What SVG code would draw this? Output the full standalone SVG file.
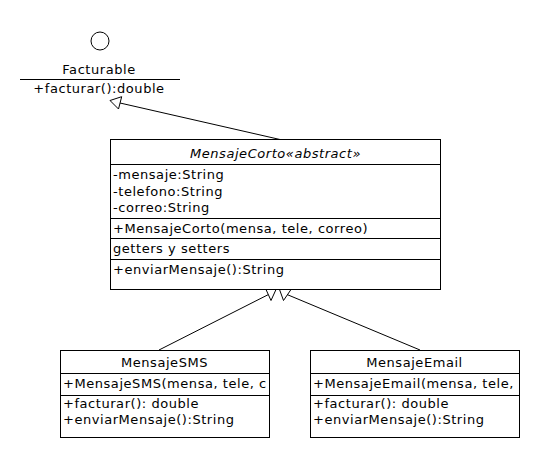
<svg xmlns="http://www.w3.org/2000/svg" width="540" height="460" viewBox="0 0 540 460">
<style>
text{font-family:"DejaVu Sans","Liberation Sans",sans-serif;font-size:13px;letter-spacing:0.55px;fill:#000}
.c{text-anchor:middle}
.i{font-style:italic}
.box{fill:#fff;stroke:#000;stroke-width:1}
.ln{stroke:#000;stroke-width:1;fill:none}
.tri{fill:#fff;stroke:#000;stroke-width:1}
</style>
<rect width="540" height="460" fill="#fff"/>
<g id="connectors">
<line class="ln" x1="280" y1="139.5" x2="120" y2="103"/>
<polygon class="tri" points="110,100.5 121.7,96.7 118.5,109"/>
<line class="ln" x1="159" y1="350" x2="268.5" y2="294.5"/>
<polygon class="tri" points="276,289.5 266,289.5 271,300.5"/>
<line class="ln" x1="420" y1="350" x2="287" y2="294.5"/>
<polygon class="tri" points="279.5,289.5 291,289.5 283.5,300.5"/>
</g>
<g id="Facturable">
<circle class="ln" cx="100" cy="41" r="9"/>
<text class="c" x="99" y="73.5">Facturable</text>
<line class="ln" x1="20" y1="79.5" x2="180" y2="79.5"/>
<text class="c" x="99" y="93">+facturar():double</text>
</g>
<g id="MensajeCorto">
<rect class="box" x="110.5" y="139.5" width="330" height="150"/>
<text class="c i" x="275.5" y="158">MensajeCorto«abstract»</text>
<line class="ln" x1="110.5" y1="164.5" x2="440.5" y2="164.5"/>
<text x="113" y="179">-mensaje:String</text>
<text x="113" y="195.5">-telefono:String</text>
<text x="113" y="212">-correo:String</text>
<line class="ln" x1="110.5" y1="218.5" x2="440.5" y2="218.5"/>
<text x="113" y="232.5">+MensajeCorto(mensa, tele, correo)</text>
<line class="ln" x1="110.5" y1="238.5" x2="440.5" y2="238.5"/>
<text x="113" y="252.5">getters y setters</text>
<line class="ln" x1="110.5" y1="259.5" x2="440.5" y2="259.5"/>
<text x="113" y="274">+enviarMensaje():String</text>
</g>
<g id="MensajeSMS">
<rect class="box" x="60.5" y="350.5" width="209" height="87"/>
<text class="c" x="164.5" y="367">MensajeSMS</text>
<line class="ln" x1="60.5" y1="373.5" x2="269.5" y2="373.5"/>
<text x="63" y="387.5">+MensajeSMS(mensa, tele, c</text>
<line class="ln" x1="60.5" y1="395.5" x2="269.5" y2="395.5"/>
<text x="63" y="407.5">+facturar(): double</text>
<text x="63" y="424">+enviarMensaje():String</text>
</g>
<g id="MensajeEmail">
<rect class="box" x="310.5" y="350.5" width="209" height="87"/>
<text class="c" x="414.5" y="367">MensajeEmail</text>
<line class="ln" x1="310.5" y1="373.5" x2="519.5" y2="373.5"/>
<text x="313" y="387.5">+MensajeEmail(mensa, tele,</text>
<line class="ln" x1="310.5" y1="395.5" x2="519.5" y2="395.5"/>
<text x="313" y="407.5">+facturar(): double</text>
<text x="313" y="424">+enviarMensaje():String</text>
</g>
</svg>
